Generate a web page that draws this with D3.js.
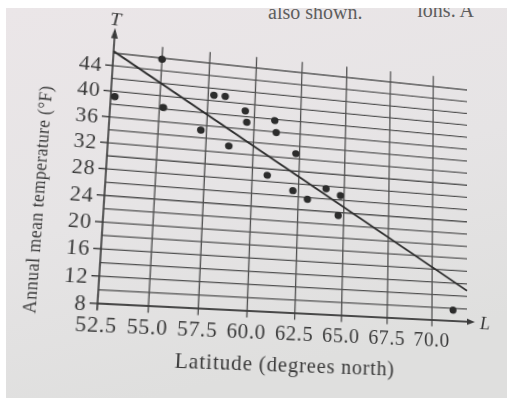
<!DOCTYPE html>
<html>
<head>
<meta charset="utf-8">
<script src="https://cdn.jsdelivr.net/npm/d3@7"></script>
<style>
  html, body { margin: 0; padding: 0; background: #ffffff; }
  #wrap { position: relative; width: 507px; height: 400px; overflow: hidden; }
  #bg, #chart { position: absolute; left: 0; top: 0; }
  #chart { transform-origin: 0 0; }
  text { font-family: "Liberation Serif", "DejaVu Serif", serif; }
</style>
</head>
<body>
<div id="wrap">
  <svg id="bg" width="507" height="400"></svg>
  <div id="chart"></div>
</div>
<script>
// ---------------- data ----------------
const latitude    = [52.7, 55.0, 55.2, 57.2, 57.8, 58.4, 58.7, 59.5, 59.6, 61.1, 61.2, 62.3, 60.8, 62.2, 63.0, 64.0, 64.8, 64.7, 71.2];
const temperature = [39.2, 45.8, 38.2, 35.2, 40.9, 40.9, 33.1, 38.9, 37.1, 37.8, 35.9, 32.8, 29.0, 26.9, 25.7, 27.6, 26.7, 23.5, 9.7];
const fitLatitude = [52.5, 72];
const fitTemperature = [46.3, 12.9];
const xTickValues = [52.5, 55.0, 57.5, 60.0, 62.5, 65.0, 67.5, 70.0];
const xTickLabels = ["52.5", "55.0", "57.5", "60.0", "62.5", "65.0", "67.5", "70.0"];
const yTickValues = [8, 12, 16, 20, 24, 28, 32, 36, 40, 44];
const yTickLabels = ["8", "12", "16", "20", "24", "28", "32", "36", "40", "44"];
const hGridValues = [8, 10, 12, 14, 16, 18, 20, 22, 24, 26, 28, 30, 32, 34, 36, 38, 40, 42, 44, 46];
const xTitle = "Latitude (degrees north)";
const yTitle = "Annual mean temperature (°F)";
const headerLeft = "also shown.";
const headerRight = "ions. A";

// ---------------- background (photo paper) ----------------
const bg = d3.select("#bg");
const defs = bg.append("defs");
const grad = defs.append("linearGradient").attr("id", "paper").attr("x1", 0).attr("y1", 0).attr("x2", 0.3).attr("y2", 1);
grad.append("stop").attr("offset", "0%").attr("stop-color", "#ebe6e8");
grad.append("stop").attr("offset", "55%").attr("stop-color", "#e6e4e5");
grad.append("stop").attr("offset", "100%").attr("stop-color", "#dfdfde");
defs.append("clipPath").attr("id", "paperClip").append("rect")
  .attr("x", 6).attr("y", 8).attr("width", 501).attr("height", 390);
bg.append("rect").attr("width", 507).attr("height", 400).attr("fill", "#ffffff");
bg.append("rect").attr("x", 6).attr("y", 8).attr("width", 501).attr("height", 390).attr("fill", "url(#paper)");
const hdr = bg.append("g").attr("clip-path", "url(#paperClip)")
  .attr("fill", "#5e5e5e").style("font-size", "20px");
hdr.append("text").attr("x", 268).attr("y", 19).text(headerLeft);
hdr.append("text").attr("x", 474).attr("y", 17).attr("text-anchor", "end").text(headerRight);

// ---------------- chart (drawn upright, then warped like the photo) ----------------
const svg = d3.select("#chart").append("svg").attr("width", 507).attr("height", 400)
  .style("overflow", "visible");

const x = d3.scaleLinear().domain([52.5, 72]).range([100, 460]);
const y = d3.scaleLinear().domain([8, 46]).range([310, 60]);

const ink = "#3a3a3a";
const g = svg.append("g");

// horizontal grid lines
g.append("g").selectAll("line").data(hGridValues).join("line")
  .attr("x1", x(52.5)).attr("x2", x(72))
  .attr("y1", d => y(d)).attr("y2", d => y(d))
  .attr("stroke", "#505050").attr("stroke-width", 1.3);

// vertical grid lines (excluding the axis itself)
g.append("g").selectAll("line").data(xTickValues.slice(1)).join("line")
  .attr("x1", d => x(d)).attr("x2", d => x(d))
  .attr("y1", y(7.0)).attr("y2", y(47.8))
  .attr("stroke", "#505050").attr("stroke-width", 1.3);

// y axis with arrow
g.append("line").attr("x1", x(52.5)).attr("x2", x(52.5))
  .attr("y1", y(7.0)).attr("y2", y(48.6))
  .attr("stroke", ink).attr("stroke-width", 1.6);
g.append("path")
  .attr("d", `M${x(52.5)},${y(50.0)} L${x(52.5) - 3.2},${y(48.3)} L${x(52.5) + 3.2},${y(48.3)} Z`)
  .attr("fill", ink);
// x axis with arrow
g.append("line").attr("x1", x(52.5)).attr("x2", x(72.0))
  .attr("y1", y(8)).attr("y2", y(8))
  .attr("stroke", ink).attr("stroke-width", 1.6);
g.append("path")
  .attr("d", `M${x(72.45)},${y(8)} L${x(72.0)},${y(8) - 3.2} L${x(72.0)},${y(8) + 3.2} Z`)
  .attr("fill", ink);

// y ticks + labels
g.append("g").selectAll("line").data(yTickValues).join("line")
  .attr("x1", x(52.5) - 7).attr("x2", x(52.5))
  .attr("y1", d => y(d)).attr("y2", d => y(d))
  .attr("stroke", ink).attr("stroke-width", 1.4);
g.append("g").selectAll("text").data(yTickValues).join("text")
  .attr("x", x(52.5) - 10).attr("y", d => y(d)).attr("dy", "0.35em")
  .attr("text-anchor", "end").attr("fill", ink)
  .style("font-size", "20px").style("letter-spacing", "0.6px")
  .text((d, i) => yTickLabels[i]);

// x tick labels
g.append("g").selectAll("text").data(xTickValues).join("text")
  .attr("x", d => x(d)).attr("y", y(8) + 27)
  .attr("text-anchor", "middle").attr("fill", ink)
  .style("font-size", "20px").style("letter-spacing", "0.6px")
  .text((d, i) => xTickLabels[i]);

// axis titles
g.append("text").attr("x", 279).attr("y", y(8) + 58)
  .attr("text-anchor", "middle").attr("fill", ink)
  .style("font-size", "20px").style("letter-spacing", "0.8px")
  .text(xTitle);
g.append("text").attr("transform", `translate(${x(52.5) - 60},${y(23)}) rotate(-90)`)
  .attr("text-anchor", "middle").attr("dy", "0.35em").attr("fill", ink)
  .style("font-size", "17px").style("letter-spacing", "0.5px")
  .text(yTitle);
g.append("text").attr("x", x(52.5)).attr("y", y(50.4))
  .attr("text-anchor", "middle").attr("fill", ink)
  .style("font-size", "19px").style("font-style", "italic").text("T");
g.append("text").attr("x", x(72.75)).attr("y", y(8) + 7)
  .attr("fill", ink)
  .style("font-size", "19px").style("font-style", "italic").text("L");

// fitted line
g.append("line")
  .attr("x1", x(fitLatitude[0])).attr("y1", y(fitTemperature[0]))
  .attr("x2", x(fitLatitude[1])).attr("y2", y(fitTemperature[1]))
  .attr("stroke", "#2e2e2e").attr("stroke-width", 2);

// data points
g.append("g").selectAll("circle").data(latitude).join("circle")
  .attr("cx", d => x(d)).attr("cy", (d, i) => y(temperature[i]))
  .attr("r", 3.7).attr("fill", "#2c2c2c");

// ---------------- perspective warp matching the photographed page ----------------
function solve(A, b) {
  const n = b.length;
  const M = A.map((row, i) => row.concat([b[i]]));
  for (let c = 0; c < n; c++) {
    let p = c;
    for (let r = c + 1; r < n; r++) if (Math.abs(M[r][c]) > Math.abs(M[p][c])) p = r;
    [M[c], M[p]] = [M[p], M[c]];
    for (let r = 0; r < n; r++) {
      if (r === c) continue;
      const f = M[r][c] / M[c][c];
      for (let k = c; k <= n; k++) M[r][k] -= f * M[c][k];
    }
  }
  return M.map((row, i) => row[n] / row[i]);
}
function homography(src, dst) {
  const A = [], b = [];
  for (let i = 0; i < 4; i++) {
    const [sx, sy] = src[i], [u, v] = dst[i];
    A.push([sx, sy, 1, 0, 0, 0, -sx * u, -sy * u]); b.push(u);
    A.push([0, 0, 0, sx, sy, 1, -sx * v, -sy * v]); b.push(v);
  }
  return solve(A, b);
}
const src = [[x(52.5), y(8)], [x(52.5), y(46)], [x(72), y(8)], [x(72), y(46)]];
const dst = [[97.5, 303.5], [113.5, 53], [467, 321.7], [467, 90]];
const [ha, hb, hc, hd, he, hf, hg, hh] = homography(src, dst);
d3.select("#chart").style("transform",
  `matrix3d(${ha},${hd},0,${hg},${hb},${he},0,${hh},0,0,1,0,${hc},${hf},0,1)`);
</script>
</body>
</html>
